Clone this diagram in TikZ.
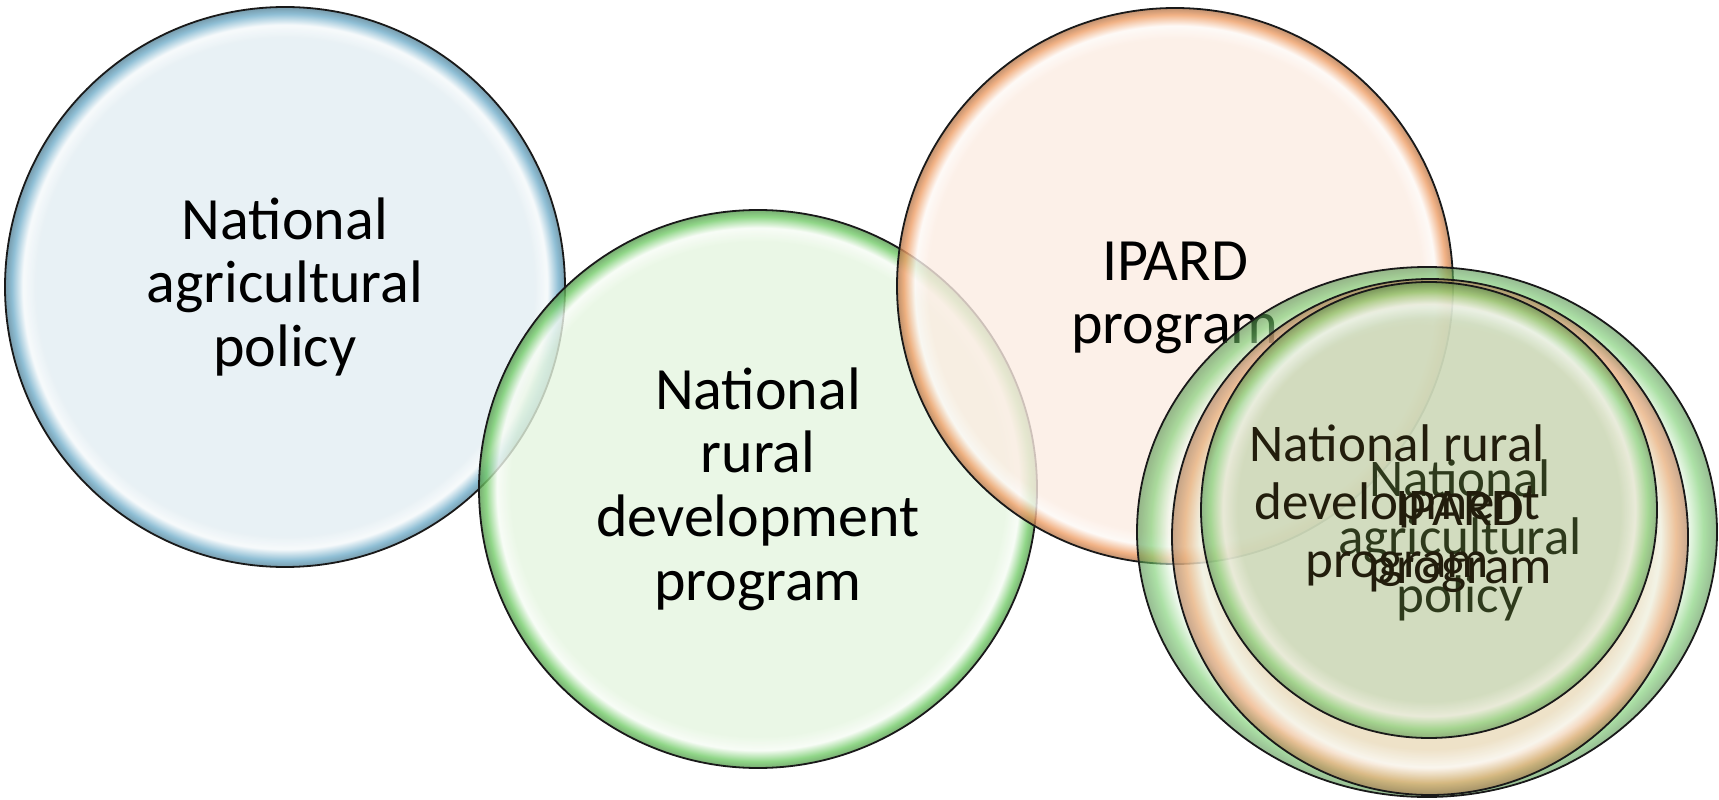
\documentclass[tikz,border=0pt]{standalone}
\usepackage{fontspec}
\setmainfont{Carlito}
\usetikzlibrary{shapes.geometric}
\definecolor{napfill}{HTML}{E2EDF2}
\definecolor{napedge}{HTML}{72AECA}
\definecolor{nrdpfill}{HTML}{E5F5E0}
\definecolor{nrdpedge}{HTML}{74CC6A}
\definecolor{ipardfill}{HTML}{FBECE2}
\definecolor{ipardedge}{HTML}{EE9E66}
\definecolor{ghostgreen}{HTML}{D2EECB}
\definecolor{ghostorange}{HTML}{F5D5B8}
\definecolor{ghostmix}{HTML}{C0DABA}
\definecolor{ghostdark}{HTML}{221D0C}
\definecolor{ghostolive}{HTML}{2E3A1C}
\pgfdeclareradialshading{napshade}{\pgfpointorigin}{color(0bp)=(napfill); color(22.2bp)=(napfill); color(23.4bp)=(napfill!35!white); color(24.4bp)=(napedge); color(25bp)=(napedge!75!black); color(50bp)=(napedge!75!black)}
\pgfdeclareradialshading{nrdpshade}{\pgfpointorigin}{color(0bp)=(nrdpfill); color(22.2bp)=(nrdpfill); color(23.4bp)=(nrdpfill!35!white); color(24.4bp)=(nrdpedge); color(25bp)=(nrdpedge!75!black); color(50bp)=(nrdpedge!75!black)}
\pgfdeclareradialshading{ipardshade}{\pgfpointorigin}{color(0bp)=(ipardfill); color(22.2bp)=(ipardfill); color(23.4bp)=(ipardfill!35!white); color(24.4bp)=(ipardedge); color(25bp)=(ipardedge!75!black); color(50bp)=(ipardedge!75!black)}
\pgfdeclareradialshading{gnrdpshade}{\pgfpointorigin}{color(0bp)=(ghostgreen); color(20.5bp)=(ghostgreen); color(22.3bp)=(ghostgreen!30!white); color(23.8bp)=(nrdpedge); color(25bp)=(nrdpedge!70!black); color(50bp)=(nrdpedge!70!black)}
\pgfdeclareradialshading{gipardshade}{\pgfpointorigin}{color(0bp)=(ghostorange); color(20.5bp)=(ghostorange); color(22.3bp)=(ghostorange!30!white); color(23.8bp)=(ipardedge); color(25bp)=(ipardedge!70!black); color(50bp)=(ipardedge!70!black)}
\pgfdeclareradialshading{gnapshade}{\pgfpointorigin}{color(0bp)=(ghostmix); color(21bp)=(ghostmix); color(22.6bp)=(ghostmix!40!white); color(24bp)=(nrdpedge); color(25bp)=(nrdpedge!70!black); color(50bp)=(nrdpedge!70!black)}
\begin{document}
\begin{tikzpicture}[x=0.5pt,y=0.5pt,
		bubble/.style={circle,draw=black!90,line width=0.9pt,shade,fill opacity=0.8,inner sep=0pt},
		ghost/.style={draw=black!90,line width=0.9pt,shade,fill opacity=0.6,inner sep=0pt},
		bubbletext/.style={align=center,font=\fontsize{30pt}{31.8pt}\selectfont},
		ghosttext/.style={align=center,font=\fontsize{26.5pt}{29pt}\selectfont}]
	\useasboundingbox (0,0) rectangle (1719,799);
	\node[bubble,shading=napshade,minimum size=280pt] (nap) at (285,512) {};
	\node[bubbletext] (naptext) at (nap) {National\\agricultural\\policy};
	\node[bubble,shading=nrdpshade,minimum size=279pt] (nrdp) at (758,310) {};
	\node[bubbletext] (nrdptext) at (nrdp) {National\\rural\\development\\program};
	\node[bubble,shading=ipardshade,minimum size=278pt] (ipard) at (1175,513) {};
	\node[bubbletext] (ipardtext) at ([yshift=-6pt]ipard.center) {IPARD\\program};
	\node[ghost,ellipse,shading=gnrdpshade,minimum width=290pt,minimum height=265pt] (gnrdp) at (1427,267) {};
	\node[ghost,circle,shading=gipardshade,minimum size=258pt] (gipard) at (1430,262) {};
	\node[ghost,circle,shading=gnapshade,minimum size=228pt] (gnap) at (1429,289) {};
	\node[ghosttext,text=ghostolive] (gnaptext) at (1460,259) {National\\agricultural\\policy};
	\node[ghosttext,text=ghostdark] (gnrdptext) at (1397,293) {National rural\\development\\program};
	\node[ghosttext,text=ghostdark] (gipardtext) at (1460,257) {IPARD\\program};
\end{tikzpicture}
\end{document}
